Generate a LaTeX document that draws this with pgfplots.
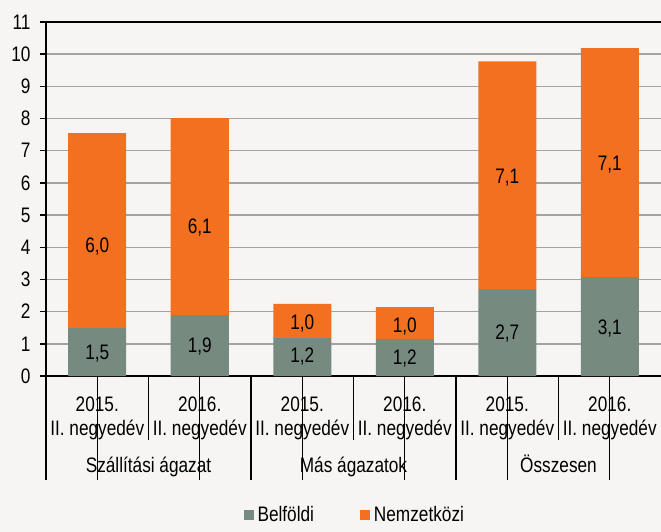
\documentclass[border=0pt]{standalone}
\usepackage{fontspec}
\setmainfont{Liberation Sans}[FakeStretch=0.82]
\usepackage{pgfplots}
\pgfplotsset{compat=1.18}
\definecolor{bg}{HTML}{F6F5F3}
\definecolor{grayb}{HTML}{778A80}
\definecolor{orangeb}{HTML}{F37021}
\definecolor{gridc}{HTML}{A3A3A3}
\newcommand{\cfont}{\fontsize{21}{24}\selectfont}
\begin{document}
\begin{tikzpicture}
\fill[bg] (-46pt,-156pt) rectangle (615pt,376pt);
\begin{axis}[
  at={(0,0)}, anchor=south west,
  scale only axis, width=615pt, height=354pt,
  ybar stacked, bar width=58pt,
  xmin=-0.5, xmax=5.5, ymin=0, ymax=11,
  font=\cfont,
  /pgf/number format/assume math mode=true,
  axis line style={draw=none},
  tick pos=left,
  tick align=outside,
  ytick={0,1,...,11},
  ymajorgrids, grid style={gridc, line width=1.4pt},
  major tick length=6pt,
  y tick style={black, line width=1.4pt},
  yticklabel style={font=\cfont, xshift=-6pt},
  xtick={-0.5,1.5,3.5},
  xticklabels={},
  minor xtick={0.5,2.5,4.5},
  xmajorgrids=false, xminorgrids=false,
  every x tick/.style={black, line width=1.4pt},
  x tick style={/pgfplots/major tick length=104pt, /pgfplots/minor tick length=64pt},
  extra x ticks={0,1,2,3,4,5},
  extra x tick labels={{2015.\\II. negyedév},{2016.\\II. negyedév},{2015.\\II. negyedév},{2016.\\II. negyedév},{2015.\\II. negyedév},{2016.\\II. negyedév}},
  extra x tick style={major tick length=0pt, xticklabel style={align=center, font=\cfont, anchor=north, yshift=-17pt}},
  clip=false,
  legend style={at={(axis description cs:0.502,-0.428)}, anchor=south, legend columns=2, draw=none, fill=none, font=\cfont,
    /tikz/every odd column/.append style={column sep=2pt},
    /tikz/every even column/.append style={column sep=44pt}},
  legend image code/.code={\draw[#1, draw=none] (0pt,-5pt) rectangle (10pt,5pt);},
]
\addplot[fill=grayb, draw=none] coordinates {(0,1.49) (1,1.89) (2,1.18) (3,1.15) (4,2.70) (5,3.07)};
\addlegendentry{Belföldi}
\addplot[fill=orangeb, draw=none] coordinates {(0,6.06) (1,6.12) (2,1.06) (3,0.99) (4,7.08) (5,7.12)};
\addlegendentry{Nemzetközi}
\draw[black, line width=2pt] (rel axis cs:0,0) -- (rel axis cs:0,1) -- (rel axis cs:1,1);
\draw[black, line width=2pt] (rel axis cs:0,0) -- (rel axis cs:1,0);
\draw[gridc, line width=1pt] (rel axis cs:1,0) -- (rel axis cs:1,1);
\node[anchor=base, font=\cfont] at (axis cs:0.5,-3.014) {Szállítási ágazat};
\node[anchor=base, font=\cfont] at (axis cs:2.5,-3.014) {Más ágazatok};
\node[anchor=base, font=\cfont] at (axis cs:4.5,-3.014) {Összesen};
\end{axis}
\begin{axis}[
  at={(0,0)}, anchor=south west,
  scale only axis, width=615pt, height=354pt,
  xmin=-0.5, xmax=5.5, ymin=0, ymax=11,
  hide axis, clip=false,
]
\addplot[draw=none, mark=none, nodes near coords, point meta=explicit symbolic,
  every node near coord/.append style={anchor=base, yshift=-7.5pt, font=\cfont, text=black}]
  table[x=x, y=y, meta=lab, row sep=\\] {
  x y lab \\
  0 0.74 1,5 \\
  0 4.08 6,0 \\
  1 0.96 1,9 \\
  1 4.67 6,1 \\
  2 0.65 1,2 \\
  2 1.68 1,0 \\
  3 0.59 1,2 \\
  3 1.58 1,0 \\
  4 1.37 2,7 \\
  4 6.23 7,1 \\
  5 1.52 3,1 \\
  5 6.61 7,1 \\
};
\end{axis}
\pgfresetboundingbox
\path (-46pt,-156pt) rectangle (615pt,376pt);
\end{tikzpicture}
\end{document}
